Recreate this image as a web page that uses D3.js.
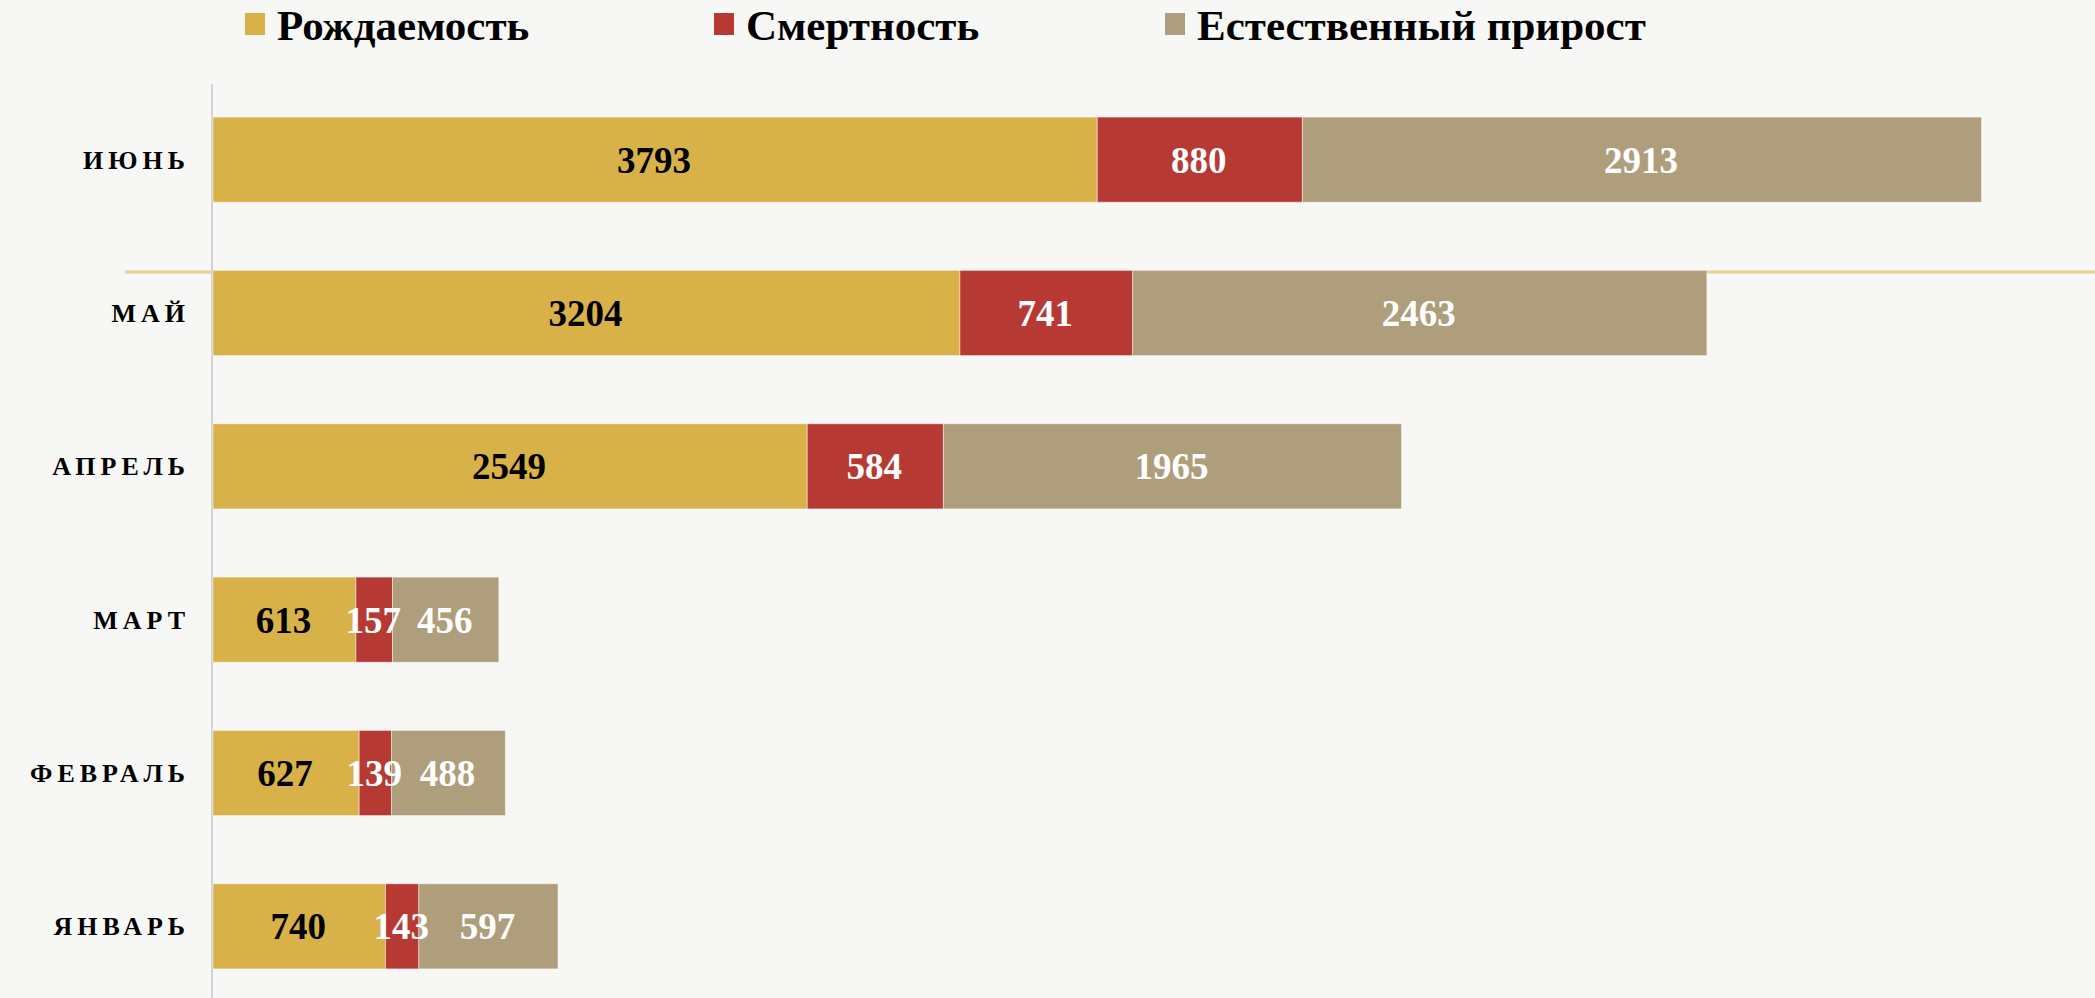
<!DOCTYPE html>
<html>
<head>
<meta charset="utf-8">
<script src="https://cdn.jsdelivr.net/npm/d3@7"></script>
<style>
  html, body { margin: 0; padding: 0; background: #f7f7f6; }
  svg { display: block; }
  .cat { font-family: "Liberation Serif", "DejaVu Serif", serif; font-weight: bold; font-size: 26px; letter-spacing: 5px; }
  .val { font-family: "Liberation Serif", "DejaVu Serif", serif; font-weight: bold; font-size: 37px; }
  .leg { font-family: "Liberation Serif", "DejaVu Serif", serif; font-weight: bold; font-size: 43px; }
</style>
</head>
<body>
<div id="chart"></div>
<script>
var width = 2095;
var height = 998;

// months, top to bottom
var months = ["ИЮНЬ", "МАЙ", "АПРЕЛЬ", "МАРТ", "ФЕВРАЛЬ", "ЯНВАРЬ"];
var births = [3793, 3204, 2549, 613, 627, 740];
var deaths = [880, 741, 584, 157, 139, 143];
var growth = [2913, 2463, 1965, 456, 488, 597];

var seriesNames = ["Рождаемость", "Смертность", "Естественный прирост"];
var seriesKeys = ["births", "deaths", "growth"];
var colors = ["#d8b248", "#b63a33", "#ae9e7b"];
var labelColors = ["#000", "#fff", "#fff"];

var rows = months.map(function(m, i) {
  return { month: m, births: births[i], deaths: deaths[i], growth: growth[i] };
});

var svg = d3.select("#chart")
  .append("svg")
  .attr("width", width)
  .attr("height", height);

var x = d3.scaleLinear().domain([0, 8000]).range([212, 2077]);

var y = d3.scaleBand()
  .domain(months)
  .range([83, 1003])
  .paddingInner(0.445)
  .paddingOuter(0.2225);

// decorative line behind the May bar
svg.append("line")
  .attr("x1", 125)
  .attr("x2", width)
  .attr("y1", y("МАЙ") + 1.5)
  .attr("y2", y("МАЙ") + 1.5)
  .attr("stroke", "#ebd08f")
  .attr("stroke-width", 3);

// axis line
svg.append("line")
  .attr("x1", x(0))
  .attr("x2", x(0))
  .attr("y1", 84)
  .attr("y2", height)
  .attr("stroke", "#d2d2d2")
  .attr("stroke-width", 2);

var stack = d3.stack().keys(seriesKeys);
var layers = stack(rows);

var groups = svg.selectAll("g.layer")
  .data(layers)
  .enter()
  .append("g")
  .attr("class", "layer")
  .attr("fill", function(d, i) { return colors[i]; });

groups.selectAll("rect")
  .data(function(d) { return d; })
  .enter()
  .append("rect")
  .attr("x", function(d) { return x(d[0]) + 1; })
  .attr("y", function(d) { return y(d.data.month); })
  .attr("width", function(d) { return x(d[1]) - x(d[0]); })
  .attr("height", y.bandwidth())
  .attr("stroke", "rgba(255,255,255,0.45)")
  .attr("stroke-width", 1);

// value labels
layers.forEach(function(layer, i) {
  svg.append("g")
    .selectAll("text")
    .data(layer)
    .enter()
    .append("text")
    .attr("class", "val")
    .attr("x", function(d) { return (x(d[0]) + x(d[1])) / 2; })
    .attr("y", function(d) { return y(d.data.month) + y.bandwidth() / 2; })
    .attr("dy", "0.35em")
    .attr("text-anchor", "middle")
    .attr("fill", labelColors[i])
    .text(function(d) { return d.data[seriesKeys[i]]; });
});

// category labels
svg.append("g")
  .selectAll("text")
  .data(months)
  .enter()
  .append("text")
  .attr("class", "cat")
  .attr("x", 190)
  .attr("y", function(d) { return y(d) + y.bandwidth() / 2; })
  .attr("dy", "0.35em")
  .attr("text-anchor", "end")
  .attr("fill", "#000")
  .text(function(d) { return d; });

// legend
var legendX = [245, 714, 1165];
var legend = svg.append("g");
seriesNames.forEach(function(name, i) {
  var g = legend.append("g").attr("transform", "translate(" + legendX[i] + ",0)");
  g.append("rect")
    .attr("x", 0)
    .attr("y", 13)
    .attr("width", 20)
    .attr("height", 22)
    .attr("fill", colors[i]);
  g.append("text")
    .attr("class", "leg")
    .attr("x", 32)
    .attr("y", 40)
    .attr("fill", "#000")
    .text(name);
});
</script>
</body>
</html>
